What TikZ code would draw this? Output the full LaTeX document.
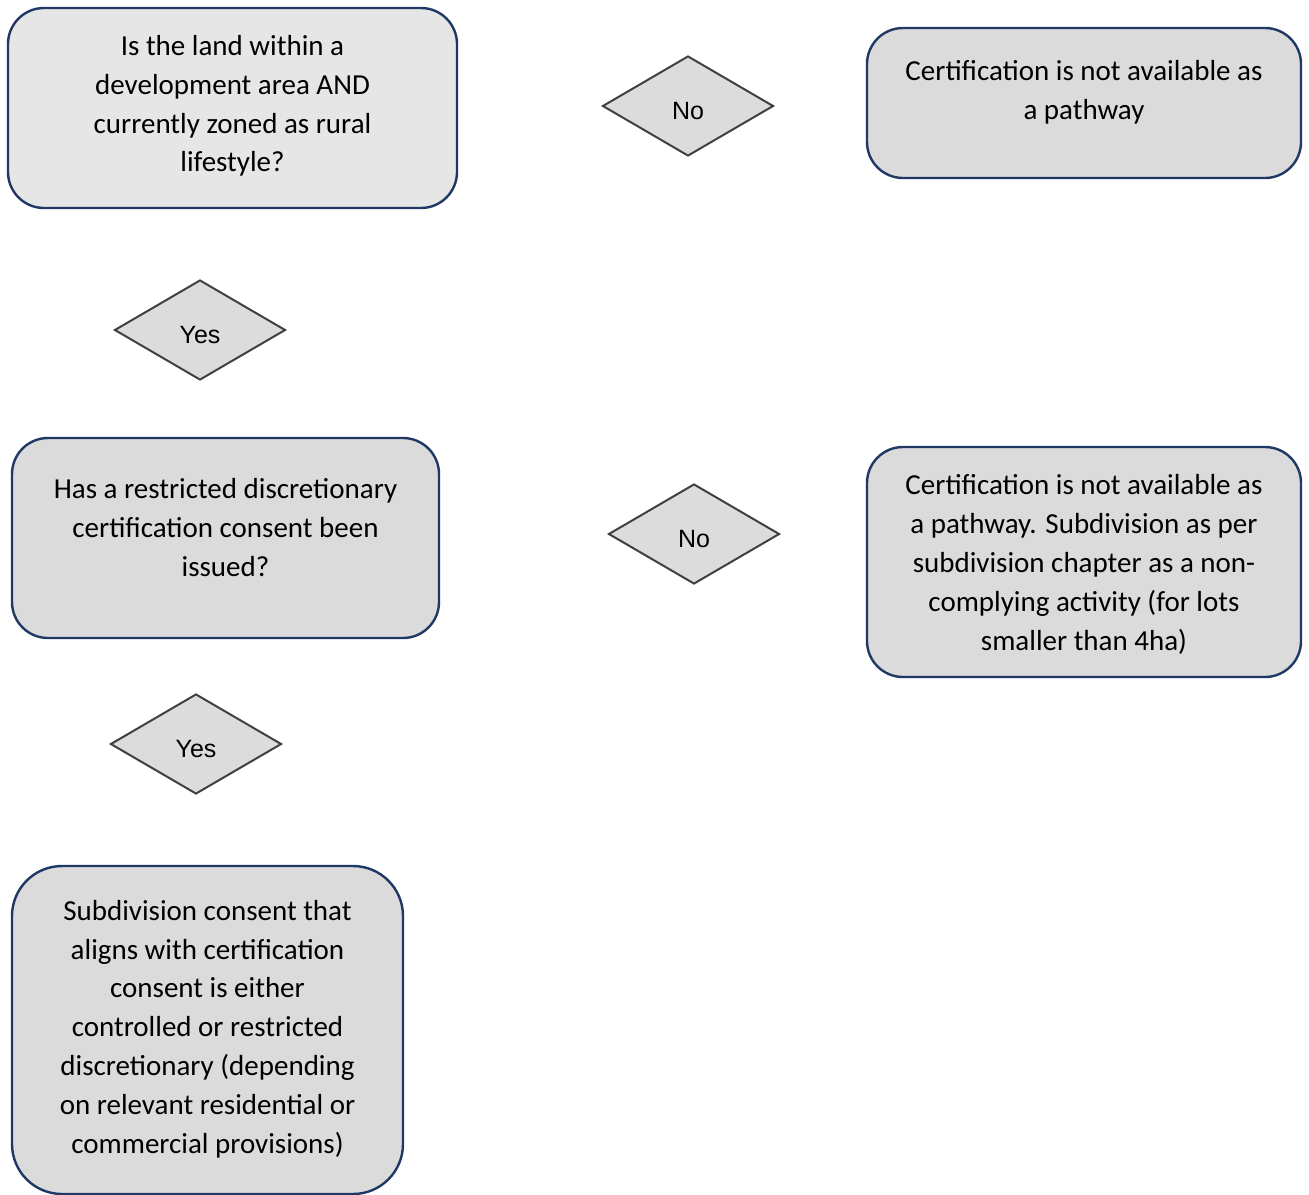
\documentclass[tikz,border=0pt]{standalone}
\usepackage{fontspec}
\setmainfont{Carlito}
\newfontfamily\diafont{Liberation Sans}
\usetikzlibrary{shapes.geometric}
\definecolor{boxline}{HTML}{1F3864}
\definecolor{boxfill}{HTML}{DBDBDB}
\definecolor{boxfilllight}{HTML}{E6E6E6}
\definecolor{dialine}{HTML}{404040}
\definecolor{diafill}{HTML}{DCDCDC}
\tikzset{
  qbox/.style={draw=boxline, line width=2.4pt, fill=boxfill, rounded corners=36pt, inner sep=0pt},
  btext/.style={align=center, inner sep=0pt, font=\fontsize{29}{38.8}\selectfont},
  decision/.style={diamond, draw=dialine, line width=2pt, fill=diafill, inner sep=0pt, minimum width=171pt, minimum height=100pt},
  dtext/.style={inner sep=0pt, font=\diafont\fontsize{25}{30}\selectfont}
}
\begin{document}
\begin{tikzpicture}[x=1pt,y=-1pt]
\useasboundingbox (0,0) rectangle (1309,1194);
\begin{scope}
\clip (0,0) rectangle (1309,1194);
% boxes
\node[qbox, fill=boxfilllight, minimum width=449pt, minimum height=200pt] (b1) at (232.5,108) {};
\node[btext] (t1) at (232.5,106) {Is the land within a\\development area AND\\currently zoned as rural\\lifestyle?};

\node[qbox, minimum width=434pt, minimum height=150pt] (r1) at (1084,103) {};
\node[btext] (tr1) at (1084,92) {Certification is not available as\\a pathway};

\node[qbox, minimum width=427pt, minimum height=200pt] (b2) at (225.5,538) {};
\node[btext] (t2) at (225.5,527.5) {Has a restricted discretionary\\certification consent been\\issued?};

\node[qbox, minimum width=434pt, minimum height=230pt] (r2) at (1084,562) {};
\node[btext] (tr2) at (1084,564.5) {Certification is not available as\\a pathway. Subdivision as per\\subdivision chapter as a non-\\complying activity (for lots\\smaller than 4ha)};

\node[qbox, rounded corners=50pt, minimum width=391pt, minimum height=328pt] (b3) at (207.5,1030) {};
\node[btext] (t3) at (207.5,1029) {Subdivision consent that\\aligns with certification\\consent is either\\controlled or restricted\\discretionary (depending\\on relevant residential or\\commercial provisions)};

% decisions
\node[decision] (d1) at (688,106) {};
\node[dtext] (l1) at (688,111) {No};
\node[decision] (d2) at (200,330) {};
\node[dtext] (l2) at (200,335) {Yes};
\node[decision] (d3) at (694,534) {};
\node[dtext] (l3) at (694,539) {No};
\node[decision] (d4) at (196,744) {};
\node[dtext] (l4) at (196,749) {Yes};
\end{scope}
\end{tikzpicture}
\end{document}
